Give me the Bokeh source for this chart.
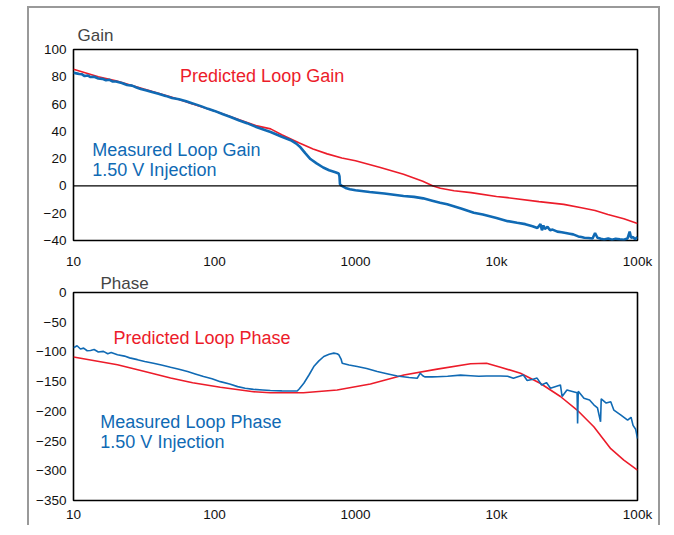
from bokeh.plotting import figure
from bokeh.layouts import column
from bokeh.models import Span, FixedTicker, Label, Title
from bokeh.embed import file_html
from bokeh.resources import INLINE

# ---------------- data ----------------
x_ticks = [10, 100, 1000, 10000, 100000]
x_tick_labels = ["10", "100", "1000", "10k", "100k"]
gain_ticks = [-40, -20, 0, 20, 40, 60, 80, 100]
phase_ticks = [0, -50, -100, -150, -200, -250, -300, -350]

pred_gain_f = [10, 15, 20, 31.6, 50, 70, 100, 150, 200, 250, 300, 400, 500, 630, 800, 1000,
               1500, 2190, 3000, 3550, 4000, 5000, 6600, 10000, 12000, 20000, 30000, 40000,
               50000, 61700, 80000, 100000]
pred_gain_db = [85.5, 80, 77, 71, 65, 60, 55, 48.5, 44, 41.8, 37.5, 31.5, 27, 23.5, 20.5, 18.5,
                13.5, 8.6, 3.5, 0, -1.7, -3.5, -4.9, -7.8, -8.6, -11.5, -13.5, -16, -18,
                -20.9, -24, -27.5]

meas_gain_f = [10, 10.5, 11, 11.5, 12, 12.6, 13.2, 14, 15, 16, 17, 18, 19, 20, 22, 24, 26, 28,
               30, 33, 36, 40, 45, 50, 56, 63, 70, 80, 90, 100, 115, 130, 150, 170, 200, 230,
               250, 300, 347, 380, 407, 440, 479, 530, 590, 650, 720, 760, 770, 776, 800, 850,
               912, 1000, 1260, 1600, 2190, 2600, 3020, 3500, 3980, 4470, 5600, 6900, 8000,
               10000, 12000, 14000, 16000, 18000, 19500, 20500, 21000, 21500, 22000, 23000,
               24000, 25000, 27000, 29000, 31000, 33000, 35000, 38000, 40000, 42000, 45000,
               48000, 50000, 52000, 55000, 58000, 62000, 66000, 70000, 75000, 80000, 85000,
               88000, 90000, 93000, 96000, 100000]
meas_gain_db = [83, 82.5, 82, 81.8, 80.5, 81, 79.8, 80, 78.8, 78.5, 77.5, 77.8, 76.5, 76.5,
                75.5, 74, 73.5, 72.2, 71, 70, 68.8, 67.5, 66, 64.5, 63.5, 62, 60.5, 58.5, 56.5,
                55, 52.5, 50.5, 48, 46, 43, 40.8, 39.5, 36, 33.5, 31, 28.3, 24, 19.7, 16.5,
                13.5, 11.5, 10, 9.1, 7, 1.2, 0, -1.5, -2.5, -3.2, -4.4, -5.5, -7.4, -8, -9.1,
                -10.8, -12.3, -13.5, -16.5, -19.7, -21, -23.5, -25.8, -27, -28, -29.5, -30.8,
                -28, -32.5, -29, -31.5, -30, -32.5, -32, -33.5, -34, -34.5, -35, -35.5, -37,
                -37.5, -38, -38.2, -38.5, -34.5, -38, -38.8, -39.2, -38.5, -39.5, -38.8,
                -39.2, -39.5, -38.5, -33.5, -38, -37.5, -39, -37.5]

pred_phase_f = [10, 20.5, 31, 48.8, 70, 110, 189, 249, 427, 741, 1276, 2203, 3800, 6550, 8500,
                10670, 14800, 20400, 28400, 37300, 49000, 64600, 80000, 100000]
pred_phase_deg = [-108.5, -121.7, -132, -144, -152, -159.5, -167, -168.6, -168.6, -164, -154,
                  -138.7, -129, -120, -119, -125.7, -135.8, -152.7, -175, -197.8, -226,
                  -262.8, -282, -299]

meas_phase_f = [10, 10.6, 11.2, 11.8, 12.5, 13.2, 14, 15, 16.3, 17.5, 18.5, 20.5, 23, 25, 28.4,
                32, 36.9, 42, 48.8, 56, 64.4, 73, 83.6, 96, 110, 128, 146, 165, 189, 220, 249,
                300, 386, 400, 430, 470, 506, 550, 596, 650, 702, 740, 762, 790, 805, 900,
                1028, 1200, 1426, 1700, 1977, 2400, 2740, 2880, 3000, 3100, 3500, 3800, 4500,
                5560, 6550, 7500, 8500, 10670, 12000, 13180, 14000, 15500, 16500, 18200, 19400,
                20900, 22600, 24150, 26000, 28400, 29200, 31600, 34000, 37300, 37600, 38000,
                41700, 45700, 49000, 52000, 54700, 55300, 60000, 64600, 68000, 75900, 85100,
                90000, 93000, 97000, 100000]
meas_phase_deg = [-93, -89.6, -95, -93.6, -98, -97.5, -96, -100, -99, -103, -101, -104.8, -107,
                  -110, -113, -116, -119, -122, -125.7, -129, -133, -137, -141.5, -145, -150,
                  -154, -158.4, -161, -163, -164, -165, -165.5, -165.7, -162, -152.7, -138,
                  -124.6, -115, -107.7, -104, -102, -103, -104.8, -112, -119, -122, -124.6,
                  -128, -133, -137, -140.4, -143, -144.3, -135.8, -140, -142, -142, -141.7,
                  -141, -139, -140, -141, -140.5, -140.4, -141, -144.3, -142, -138.7, -148,
                  -146, -144, -155.6, -151.6, -161, -158.5, -155.6, -175, -164, -166, -168.6,
                  -220.5, -166, -178, -181, -189, -194, -217.6, -179, -186, -183.8, -198,
                  -206, -214.8, -210, -223.6, -230, -245.8]

RED = "#ec1c2a"
BLUE = "#106ab4"
FONT = "Liberation Sans"


def style(p, yticks, label_standoff):
    p.xaxis.ticker = FixedTicker(ticks=x_ticks)
    p.xaxis.major_label_overrides = {t: s for t, s in zip(x_ticks, x_tick_labels)}
    p.yaxis.ticker = FixedTicker(ticks=yticks)
    for ax in (p.xaxis[0], p.yaxis[0]):
        ax.axis_line_color = None
        ax.major_tick_line_color = None
        ax.minor_tick_line_color = None
        ax.major_tick_out = 0
        ax.major_tick_in = 0
        ax.major_label_text_font = FONT
        ax.major_label_text_font_size = "13.5px"
        ax.major_label_text_color = "#111111"
    p.xaxis.major_label_standoff = label_standoff
    p.yaxis.major_label_standoff = 7
    p.xgrid.visible = False
    p.ygrid.visible = False
    p.outline_line_color = "black"
    p.outline_line_width = 1.6
    p.outline_line_alpha = 1.0
    p.background_fill_color = "white"
    p.border_fill_color = "white"


# ---------------- gain ----------------
p1 = figure(width=629, height=263, x_axis_type="log", x_range=(10, 100000), y_range=(-40, 100),
            output_backend="svg", toolbar_location=None, min_border_left=44,
            min_border_right=21, min_border_top=41, min_border_bottom=30,
            title=Title(text="Gain", align="left", offset=4, text_font=FONT,
                        text_font_size="17px", text_font_style="normal", standoff=9))
style(p1, gain_ticks, 13)
p1.add_layout(Span(location=0, dimension="width", line_color="black", line_width=1.2))
p1.line(pred_gain_f, pred_gain_db, line_color=RED, line_width=1.6)
p1.line(meas_gain_f, meas_gain_db, line_color=BLUE, line_width=2.6)
p1.add_layout(Label(x=57, y=80.5, text="Predicted Loop Gain", text_color=RED, text_font=FONT,
                    text_font_size="18px", text_baseline="middle"))
p1.add_layout(Label(x=13.6, y=26.6, text="Measured Loop Gain", text_color=BLUE, text_font=FONT,
                    text_font_size="18px", text_baseline="middle"))
p1.add_layout(Label(x=13.6, y=11.8, text="1.50 V Injection", text_color=BLUE, text_font=FONT,
                    text_font_size="18px", text_baseline="middle"))

# ---------------- phase ----------------
p2 = figure(width=629, height=254, x_axis_type="log", x_range=(10, 100000), y_range=(-350, 0),
            output_backend="svg", toolbar_location=None, min_border_left=44,
            min_border_right=21, min_border_top=19, min_border_bottom=25,
            title=Title(text="Phase", align="left", offset=27, text_font=FONT,
                        text_font_size="17px", text_font_style="normal", standoff=0))
style(p2, phase_ticks, 6)
p2.line(pred_phase_f, pred_phase_deg, line_color=RED, line_width=1.6)
p2.line(meas_phase_f, meas_phase_deg, line_color=BLUE, line_width=1.6)
p2.add_layout(Label(x=19.2, y=-76, text="Predicted Loop Phase", text_color=RED, text_font=FONT,
                    text_font_size="18px", text_baseline="middle"))
p2.add_layout(Label(x=15.5, y=-218, text="Measured Loop Phase", text_color=BLUE,
                    text_font=FONT, text_font_size="18px", text_baseline="middle"))
p2.add_layout(Label(x=15.5, y=-252, text="1.50 V Injection", text_color=BLUE, text_font=FONT,
                    text_font_size="18px", text_baseline="middle"))

layout = column(p1, p2, spacing=0, margin=(6, 0, 0, 27),
                styles={"border-top": "2px solid #999999", "border-left": "2px solid #999999",
                        "border-right": "2px solid #999999"})

open("out.html", "w").write(file_html(layout, INLINE))
